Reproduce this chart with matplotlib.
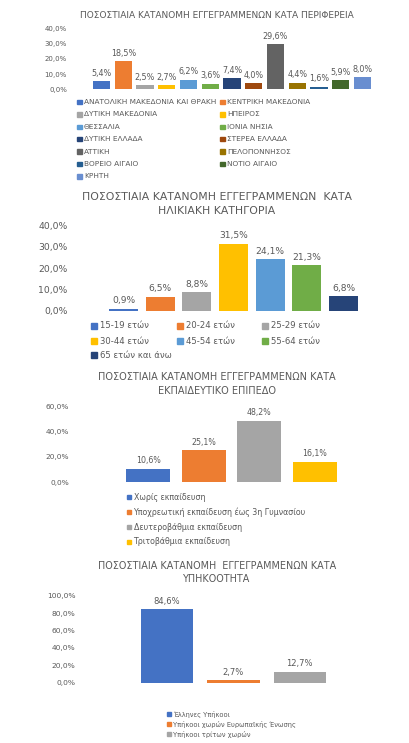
import matplotlib.pyplot as plt
from matplotlib.patches import Rectangle
from matplotlib.ticker import FuncFormatter

# --- δεδομένα ---
perifereies = ["ΑΝΑΤΟΛΙΚΗ ΜΑΚΕΔΟΝΙΑ ΚΑΙ ΘΡΑΚΗ", "ΚΕΝΤΡΙΚΗ ΜΑΚΕΔΟΝΙΑ", "ΔΥΤΙΚΗ ΜΑΚΕΔΟΝΙΑ",
               "ΗΠΕΙΡΟΣ", "ΘΕΣΣΑΛΙΑ", "ΙΟΝΙΑ ΝΗΣΙΑ", "ΔΥΤΙΚΗ ΕΛΛΑΔΑ", "ΣΤΕΡΕΑ ΕΛΛΑΔΑ",
               "ΑΤΤΙΚΗ", "ΠΕΛΟΠΟΝΝΗΣΟΣ", "ΒΟΡΕΙΟ ΑΙΓΑΙΟ", "ΝΟΤΙΟ ΑΙΓΑΙΟ", "ΚΡΗΤΗ"]
perif_pososta = [5.4, 18.5, 2.5, 2.7, 6.2, 3.6, 7.4, 4.0, 29.6, 4.4, 1.6, 5.9, 8.0]

ilikies = ["15-19 ετών", "20-24 ετών", "25-29 ετών", "30-44 ετών", "45-54 ετών",
           "55-64 ετών", "65 ετών και άνω"]
ilikies_pososta = [0.9, 6.5, 8.8, 31.5, 24.1, 21.3, 6.8]

ekpaideusi = ["Χωρίς εκπαίδευση", "Υποχρεωτική εκπαίδευση έως 3η Γυμνασίου",
              "Δευτεροβάθμια εκπαίδευση", "Τριτοβάθμια εκπαίδευση"]
ekpaideusi_pososta = [10.6, 25.1, 48.2, 16.1]

ypikootita = ["Έλληνες Υπήκοοι", "Υπήκοοι χωρών Ευρωπαϊκής Ένωσης", "Υπήκοοι τρίτων χωρών"]
ypikootita_pososta = [84.6, 2.7, 12.7]

# χρώματα office
xromata = ["#4472C4", "#ED7D31", "#A5A5A5", "#FFC000", "#5B9BD5", "#70AD47",
           "#264478", "#9E480E", "#636363", "#997300", "#255E91", "#43682B", "#698ED0"]

GRI = "#595959"
W, H = 409, 743
plt.rcParams['font.family'] = ['DejaVu Sans']

fig = plt.figure(figsize=(W / 100, H / 100), dpi=100)


def pososto(v, pos=None):
    return f"{v:.1f}%".replace(".", ",")


def fy(y):
    # pixel (από πάνω) -> συντεταγμένη figure
    return 1 - y / H


def grafima(times, x0, x1, y0, y1, ymax, vima, fsize, dsize, pad):
    ax = fig.add_axes([x0 / W, fy(y1), (x1 - x0) / W, (y1 - y0) / H])
    n = len(times)
    bars = ax.bar(range(n), times, width=0.79, color=xromata[:n], zorder=2)
    ax.set_xlim(-0.5, n - 0.5)
    ax.set_ylim(0, ymax)
    ax.set_yticks(range(0, ymax + 1, vima))
    ax.yaxis.set_major_formatter(FuncFormatter(pososto))
    ax.tick_params(axis='y', length=0, labelsize=fsize, labelcolor=GRI, pad=pad)
    ax.set_xticks([])
    for s in ax.spines.values():
        s.set_visible(False)
    for b, v in zip(bars, times):
        ax.annotate(pososto(v), (b.get_x() + b.get_width() / 2, v), xytext=(0, 2.5),
                    textcoords="offset points", ha="center", va="bottom",
                    fontsize=dsize, color=GRI)
    return ax


def titlos(grammes, ys, size):
    for g, y in zip(grammes, ys):
        fig.text(217 / W, fy(y), g, ha="center", va="center", fontsize=size, color=GRI)


def ypomnima(onomata, theseis, size, tetr, keno):
    # theseis: (x, y) σε pixel για κάθε τετραγωνάκι
    for i, (nm, (x, y)) in enumerate(zip(onomata, theseis)):
        fig.add_artist(Rectangle((x / W, fy(y + tetr / 2)), tetr / W, tetr / H,
                                 transform=fig.transFigure, color=xromata[i]))
        fig.text((x + keno) / W, fy(y), nm, ha="left", va="center", fontsize=size, color=GRI)


# 1. περιφέρεια
grafima(perif_pososta, 90.7, 373.3, 28.3, 89.3, 40, 10, 5.0, 5.8, 17)
titlos(["ΠΟΣΟΣΤΙΑΙΑ ΚΑΤΑΝΟΜΗ ΕΓΓΕΓΡΑΜΜΕΝΩΝ ΚΑΤΑ ΠΕΡΙΦΕΡΕΙΑ"], [15], 6.5)
ypomnima(perifereies, [(77 if i % 2 == 0 else 220, 102 + 12.4 * (i // 2))
                       for i in range(len(perifereies))], 5.3, 4.5, 7)

# 2. ηλικία
grafima(ilikies_pososta, 105.2, 361.8, 225.7, 310.7, 40, 10, 6.7, 6.6, 27)
titlos(["ΠΟΣΟΣΤΙΑΙΑ ΚΑΤΑΝΟΜΗ ΕΓΓΕΓΡΑΜΜΕΝΩΝ  ΚΑΤΑ", "ΗΛΙΚΙΑΚΗ ΚΑΤΗΓΟΡΙΑ"], [197, 211], 7.85)
ypomnima(ilikies, [([91, 177, 262][i % 3], [326, 341, 355][i // 3])
                   for i in range(len(ilikies))], 6.1, 5.5, 9)

# 3. εκπαίδευση
grafima(ekpaideusi_pososta, 120.2, 342.8, 406, 482, 60, 20, 5.3, 5.7, 37)
titlos(["ΠΟΣΟΣΤΙΑΙΑ ΚΑΤΑΝΟΜΗ ΕΓΓΕΓΡΑΜΜΕΝΩΝ ΚΑΤΑ", "ΕΚΠΑΙΔΕΥΤΙΚΟ ΕΠΙΠΕΔΟ"], [377, 391], 7.0)
ypomnima(ekpaideusi, [(127, y) for y in [497, 512, 527, 542]], 5.7, 4, 6.5)

# 4. υπηκοότητα
grafima(ypikootita_pososta, 134, 333, 595.7, 682.7, 100, 20, 5.4, 6.0, 42)
titlos(["ΠΟΣΟΣΤΙΑΙΑ ΚΑΤΑΝΟΜΗ  ΕΓΓΕΓΡΑΜΜΕΝΩΝ ΚΑΤΑ", "ΥΠΗΚΟΟΤΗΤΑ"], [566, 579], 6.9)
ypomnima(ypikootita, [(167, y) for y in [714, 724, 734]], 4.8, 4, 6)

fig.savefig("out.png", dpi=100)
